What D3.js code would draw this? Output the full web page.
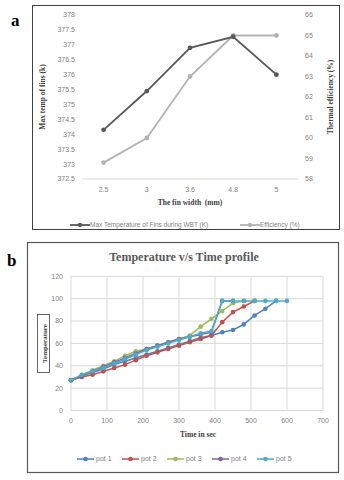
<!DOCTYPE html>
<html>
<head>
<meta charset="utf-8">
<script src="https://cdn.jsdelivr.net/npm/d3@7"></script>
<style>
  body { margin: 0; background: #fff; }
  svg { display: block; }
</style>
</head>
<body>
<div id="chart"></div>
<script>
// chart a data
const finWidths = ["2.5", "3", "3.6", "4.8", "5"];
const maxTemp = [374.15, 375.45, 376.9, 377.27, 376];
const efficiency = [58.8, 60, 63, 65, 65];
const tempTicks = [372.5, 373, 373.5, 374, 374.5, 375, 375.5, 376, 376.5, 377, 377.5, 378];
const effTicks = [58, 59, 60, 61, 62, 63, 64, 65, 66];

// chart b data
const potNames = ["pot 1", "pot 2", "pot 3", "pot 4", "pot 5"];
const pot1Time = [0, 30, 60, 90, 120, 150, 180, 210, 240, 270, 300, 330, 360, 390, 420, 450, 480, 510, 540, 570];
const pot1Temp = [27, 31, 34, 37, 41, 44, 47, 50, 53, 56, 59, 62, 65, 67, 70, 72, 77, 85, 91, 98];
const pot2Time = [0, 30, 60, 90, 120, 150, 180, 210, 240, 270, 300, 330, 360, 390, 420, 450, 480, 510];
const pot2Temp = [27, 30, 32, 35, 38, 41, 45, 49, 52, 55, 58, 61, 64, 67, 79, 88, 93, 98];
const pot3Time = [0, 30, 60, 90, 120, 150, 180, 210, 240, 270, 300, 330, 360, 390, 420, 450, 480];
const pot3Temp = [27, 32, 36, 40, 44, 49, 53, 55, 58, 61, 64, 67, 75, 82, 89, 96, 98];
const pot4Time = [0, 30, 60, 90, 120, 150, 180, 210, 240, 270, 300, 330, 360, 390, 420, 450];
const pot4Temp = [27, 31, 35, 39, 43, 47, 51, 55, 58, 61, 64, 66, 68, 70, 98, 98];
const pot5Time = [0, 30, 60, 90, 120, 150, 180, 210, 240, 270, 300, 330, 360, 390, 420, 450, 480, 510, 540, 570, 600];
const pot5Temp = [27, 32, 35, 38, 42, 46, 50, 54, 57, 60, 63, 66, 69, 71, 98, 98, 98, 98, 98, 98, 98];
const timeTicks = [0, 100, 200, 300, 400, 500, 600, 700];
const potTicks = [0, 20, 40, 60, 80, 100, 120];

const potColors = ["#4f81bd", "#c0504d", "#9bbb59", "#8064a2", "#4bacc6"];
const serif = "'Liberation Serif', 'DejaVu Serif', serif";
const sans = "'Liberation Sans', Arial, sans-serif";

const svg = d3.select("#chart").append("svg")
  .attr("width", 344)
  .attr("height", 480);

// ---------- chart a ----------
const ga = svg.append("g");
ga.append("rect")
  .attr("x", 32.5).attr("y", 5.5)
  .attr("width", 307).attr("height", 224)
  .attr("fill", "#fff").attr("stroke", "#404040").attr("stroke-width", 1);

svg.append("text")
  .attr("x", 11).attr("y", 26)
  .style("font-family", serif).style("font-weight", "bold").style("font-size", "17px")
  .text("a");

const xa = d3.scalePoint().domain(finWidths).range([82, 298]).padding(0.5);
const yTemp = d3.scaleLinear().domain([372.5, 378]).range([179, 15]);
const yEff = d3.scaleLinear().domain([58, 66]).range([179, 15]);

// baseline
ga.append("line")
  .attr("x1", 82).attr("x2", 298)
  .attr("y1", yTemp(372.5)).attr("y2", yTemp(372.5))
  .attr("stroke", "#d9d9d9");

// left ticks
ga.selectAll(".lt").data(tempTicks).enter().append("text")
  .attr("x", 75).attr("y", d => yTemp(d))
  .attr("dy", "0.35em").attr("text-anchor", "end")
  .style("font-family", sans).style("font-size", "7px").attr("fill", "#7f7f7f")
  .text(d => d);

// right ticks
ga.selectAll(".rt").data(effTicks).enter().append("text")
  .attr("x", 305).attr("y", d => yEff(d))
  .attr("dy", "0.35em")
  .style("font-family", sans).style("font-size", "7px").attr("fill", "#7f7f7f")
  .text(d => d);

// x ticks
ga.selectAll(".xt").data(finWidths).enter().append("text")
  .attr("x", d => xa(d)).attr("y", 190)
  .attr("dy", "0.35em").attr("text-anchor", "middle")
  .style("font-family", sans).style("font-size", "7px").attr("fill", "#7f7f7f")
  .text(d => d);

ga.append("text")
  .attr("x", 190).attr("y", 205)
  .attr("text-anchor", "middle")
  .style("font-family", serif).style("font-weight", "bold").style("font-size", "7.5px").attr("fill", "#404040")
  .attr("xml:space", "preserve")
  .text("The fin width  (mm)");

ga.append("text")
  .attr("transform", "translate(45,97) rotate(-90)")
  .attr("text-anchor", "middle")
  .style("font-family", serif).style("font-weight", "bold").style("font-size", "7.5px").attr("fill", "#404040")
  .text("Max temp of fins (k)");

ga.append("text")
  .attr("transform", "translate(333,97) rotate(-90)")
  .attr("text-anchor", "middle")
  .style("font-family", serif).style("font-weight", "bold").style("font-size", "7.5px").attr("fill", "#404040")
  .text("Thermal efficiency (%)");

const aSeries = [
  { values: efficiency, y: yEff, color: "#b3b3b3" },
  { values: maxTemp, y: yTemp, color: "#595959" }
];

aSeries.forEach(function (s) {
  const line = d3.line()
    .x((d, i) => xa(finWidths[i]))
    .y(d => s.y(d));
  ga.append("path")
    .attr("d", line(s.values))
    .attr("fill", "none")
    .attr("stroke", s.color)
    .attr("stroke-width", 1.8);
  ga.selectAll(null).data(s.values).enter().append("circle")
    .attr("cx", (d, i) => xa(finWidths[i]))
    .attr("cy", d => s.y(d))
    .attr("r", 2.4)
    .attr("fill", s.color);
});

// legend a
const legA = [
  { label: "Max Temperature of Fins during WBT (K)", color: "#595959", x: 70 },
  { label: "Efficiency (%)", color: "#b3b3b3", x: 240 }
];
legA.forEach(function (l) {
  ga.append("line")
    .attr("x1", l.x).attr("x2", l.x + 20).attr("y1", 225).attr("y2", 225)
    .attr("stroke", l.color).attr("stroke-width", 1.8);
  ga.append("circle").attr("cx", l.x + 10).attr("cy", 225).attr("r", 2.2).attr("fill", l.color);
  ga.append("text")
    .attr("x", l.x + 20).attr("y", 225).attr("dy", "0.35em")
    .style("font-family", sans).style("font-size", "6.5px").attr("fill", "#7f7f7f")
    .text(l.label);
});

// ---------- chart b ----------
const gb = svg.append("g");
gb.append("rect")
  .attr("x", 27.5).attr("y", 242.5)
  .attr("width", 311).attr("height", 230)
  .attr("fill", "#fff").attr("stroke", "#595959").attr("stroke-width", 1.2);

svg.append("text")
  .attr("x", 7).attr("y", 266)
  .style("font-family", serif).style("font-weight", "bold").style("font-size", "17px")
  .text("b");

gb.append("text")
  .attr("x", 184).attr("y", 261)
  .attr("text-anchor", "middle")
  .style("font-family", serif).style("font-weight", "bold").style("font-size", "12px").attr("fill", "#595959")
  .text("Temperature v/s Time profile");

const xb = d3.scaleLinear().domain([0, 700]).range([71, 323]);
const yb = d3.scaleLinear().domain([0, 120]).range([410.5, 276.3]);

// grid
gb.selectAll(".hg").data(potTicks).enter().append("line")
  .attr("x1", 71).attr("x2", 323)
  .attr("y1", d => yb(d)).attr("y2", d => yb(d))
  .attr("stroke", "#d9d9d9");
gb.selectAll(".vg").data(timeTicks).enter().append("line")
  .attr("x1", d => xb(d)).attr("x2", d => xb(d))
  .attr("y1", yb(0)).attr("y2", yb(120))
  .attr("stroke", "#d9d9d9");

gb.selectAll(".yt").data(potTicks).enter().append("text")
  .attr("x", 63).attr("y", d => yb(d)).attr("dy", "0.35em")
  .attr("text-anchor", "end")
  .style("font-family", sans).style("font-size", "7px").attr("fill", "#7f7f7f")
  .text(d => d);
gb.selectAll(".xbt").data(timeTicks).enter().append("text")
  .attr("x", d => xb(d)).attr("y", 421).attr("dy", "0.35em")
  .attr("text-anchor", "middle")
  .style("font-family", sans).style("font-size", "7px").attr("fill", "#7f7f7f")
  .text(d => d);

gb.append("text")
  .attr("x", 198).attr("y", 437)
  .attr("text-anchor", "middle")
  .style("font-family", serif).style("font-weight", "bold").style("font-size", "7.5px").attr("fill", "#404040")
  .text("Time in sec");

gb.append("rect")
  .attr("x", 37.5).attr("y", 314.5)
  .attr("width", 12).attr("height", 58)
  .attr("fill", "none").attr("stroke", "#404040").attr("stroke-width", 0.8);
gb.append("text")
  .attr("transform", "translate(46.5,343.5) rotate(-90)")
  .attr("text-anchor", "middle")
  .style("font-family", serif).style("font-weight", "bold").style("font-size", "7px").attr("fill", "#404040")
  .text("Temperature");

const pots = [
  { t: pot1Time, v: pot1Temp },
  { t: pot2Time, v: pot2Temp },
  { t: pot3Time, v: pot3Temp },
  { t: pot4Time, v: pot4Temp },
  { t: pot5Time, v: pot5Temp }
];

pots.forEach(function (p, k) {
  const line = d3.line()
    .x((d, i) => xb(p.t[i]))
    .y(d => yb(d));
  gb.append("path")
    .attr("d", line(p.v))
    .attr("fill", "none")
    .attr("stroke", potColors[k])
    .attr("stroke-width", 1.5);
  gb.selectAll(null).data(p.v).enter().append("circle")
    .attr("cx", (d, i) => xb(p.t[i]))
    .attr("cy", d => yb(d))
    .attr("r", 2.3)
    .attr("fill", potColors[k]);
});

// legend b
potNames.forEach(function (name, k) {
  const lx = 77 + k * 45;
  gb.append("line")
    .attr("x1", lx).attr("x2", lx + 17).attr("y1", 459).attr("y2", 459)
    .attr("stroke", potColors[k]).attr("stroke-width", 1.5);
  gb.append("circle").attr("cx", lx + 8.5).attr("cy", 459).attr("r", 2.3).attr("fill", potColors[k]);
  gb.append("text")
    .attr("x", lx + 19).attr("y", 459).attr("dy", "0.35em")
    .style("font-family", sans).style("font-size", "7px").attr("fill", "#7f7f7f")
    .text(name);
});
</script>
</body>
</html>
